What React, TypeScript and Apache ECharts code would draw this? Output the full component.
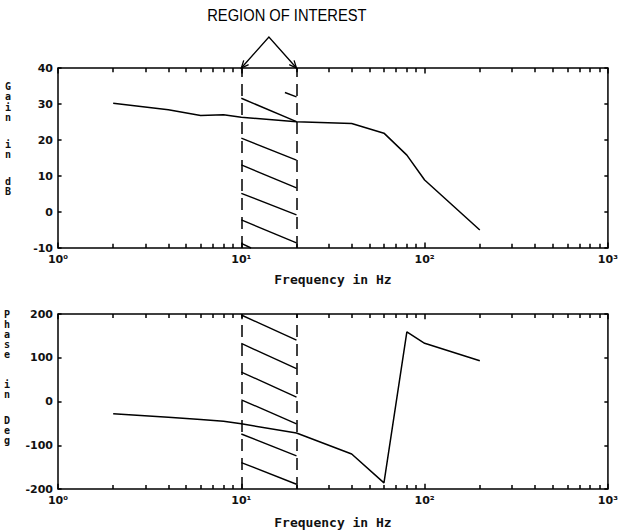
import React, { useEffect, useRef } from "react";
import * as echarts from "echarts";

// ---- data ----
const freqHz = [2, 4, 6, 8, 10, 20, 40, 60, 80, 100, 200];
const gainDb = [30.2, 28.4, 26.8, 27.0, 26.3, 25.1, 24.6, 21.9, 15.8, 8.9, -5.0];
const phaseDeg = [-28, -36, -41, -45, -51, -72, -120, -186, 159, 133, 93];

const regionBounds = [10, 20];
const regionTitle = "REGION OF INTEREST";

const decadeLabels = ["10⁰", "10¹", "10²", "10³"];
const majorFreqTicks = [1, 10, 100, 1000];
const minorFreqTicks = [
  2, 3, 4, 5, 6, 7, 8, 9,
  20, 30, 40, 50, 60, 70, 80, 90,
  200, 300, 400, 500, 600, 700, 800, 900,
];

const gainRange = [-10, 40];
const gainTickValues = [-10, 0, 10, 20, 30, 40];
const phaseRange = [-200, 200];
const phaseTickValues = [-200, -100, 0, 100, 200];

// hatch segments in the region of interest: start (freq, value) -> end (freq, value)
const gainHatchF1 = [17.3, 10, 10, 10, 10, 10, 10];
const gainHatchV1 = [33.2, 31.6, 20.5, 13.1, 5.2, -2.2, -8.7];
const gainHatchF2 = [20, 20, 20, 20, 20, 20, 11.3];
const gainHatchV2 = [32.0, 25.1, 14.4, 6.7, -0.8, -8.6, -10];

const phaseHatchV1 = [197.7, 132.6, 67.4, 3.9, -74.3, -139.5];
const phaseHatchV2 = [140.2, 75.2, 9.9, -51.3, -124.1, -189.2];

const gainTitle = [["G", "a", "i", "n"], ["i", "n"], ["d", "B"]];
const phaseTitle = [["P", "h", "a", "s", "e"], ["i", "n"], ["D", "e", "g"]];

const INK = "#111";
const MONO = "'DejaVu Sans Mono', monospace";
const SANS = "'DejaVu Sans', sans-serif";

export default function App() {
  const ref = useRef<HTMLDivElement | null>(null);

  useEffect(() => {
    if (!ref.current) return;
    const chart = echarts.init(ref.current, undefined, { renderer: "svg" });

    const xAxisBase = (gridIndex: number, nameGap: number) => ({
      type: "log" as const,
      logBase: 10,
      gridIndex,
      min: 1,
      max: 1000,
      axisLine: { show: false },
      axisTick: { show: false },
      splitLine: { show: false },
      axisLabel: {
        margin: 6,
        color: INK,
        fontFamily: SANS,
        fontWeight: "bold" as const,
        fontSize: 11,
        formatter: (v: number) => decadeLabels[Math.round(Math.log10(v))] ?? "",
      },
      name: "Frequency in Hz",
      nameLocation: "middle" as const,
      nameGap,
      nameTextStyle: { color: INK, fontFamily: MONO, fontWeight: "bold" as const, fontSize: 13 },
    });

    const yAxisBase = (gridIndex: number, range: number[], interval: number) => ({
      type: "value" as const,
      gridIndex,
      min: range[0],
      max: range[1],
      interval,
      axisLine: { show: false },
      axisTick: { show: false },
      splitLine: { show: false },
      axisLabel: {
        margin: 5,
        color: INK,
        fontFamily: SANS,
        fontWeight: "bold" as const,
        fontSize: 11,
      },
    });

    const segmentSeries = (xi: number, yi: number, items: number[][], width: number) => ({
      type: "custom" as const,
      xAxisIndex: xi,
      yAxisIndex: yi,
      silent: true,
      data: items,
      renderItem: (_p: any, api: any) => {
        const a = api.coord([api.value(0), api.value(1)]);
        const b = api.coord([api.value(2), api.value(3)]);
        return {
          type: "line",
          shape: { x1: a[0], y1: a[1], x2: b[0], y2: b[1] },
          style: { stroke: "#000", lineWidth: width },
        };
      },
    });

    const dashedBounds = {
      silent: true,
      symbol: ["none", "none"],
      label: { show: false },
      lineStyle: { color: "#000", width: 1.5, type: [12, 7] as any },
      data: regionBounds.map((f) => ({ xAxis: f })),
    };

    const gainHatch = gainHatchF1.map((f, i) => [f, gainHatchV1[i], gainHatchF2[i], gainHatchV2[i]]);
    const phaseHatch = phaseHatchV1.map((v, i) => [regionBounds[0], v, regionBounds[1], phaseHatchV2[i]]);

    // frame ticks as markLine segments in data units (length as a share of the axis span)
    const tickMarkData = (range: number[], values: number[]) => {
      const span = range[1] - range[0];
      const out: any[] = [];
      [...majorFreqTicks, ...minorFreqTicks].forEach((f) => {
        const l = (majorFreqTicks.includes(f) ? 0.03 : 0.023) * span;
        out.push([{ coord: [f, range[0]] }, { coord: [f, range[0] + l] }]);
        out.push([{ coord: [f, range[1]] }, { coord: [f, range[1] - l] }]);
      });
      const k = Math.pow(10, 3 * 0.0065);
      values.forEach((v) => {
        out.push([{ coord: [1, v] }, { coord: [k, v] }]);
        out.push([{ coord: [1000, v] }, { coord: [1000 / k, v] }]);
      });
      return out;
    };
    const tickSeries = (xi: number, yi: number, range: number[], values: number[]) => ({
      type: "line" as const,
      xAxisIndex: xi,
      yAxisIndex: yi,
      data: [[1, range[0]]],
      showSymbol: false,
      symbol: "none",
      lineStyle: { width: 0 },
      silent: true,
      markLine: {
        silent: true,
        symbol: ["none", "none"],
        label: { show: false },
        lineStyle: { color: "#000", width: 1.5, type: "solid" as const },
        data: tickMarkData(range, values),
      },
      z: 5,
    });

    chart.setOption({
      animation: false,
      backgroundColor: "#fff",
      grid: [
        { left: 58, top: 68, width: 557, height: 180, show: true, borderColor: "#000", borderWidth: 1.5 },
        { left: 58, top: 314, width: 557, height: 175, show: true, borderColor: "#000", borderWidth: 1.5 },
      ],
      xAxis: [xAxisBase(0, 25), xAxisBase(1, 27)],
      yAxis: [yAxisBase(0, gainRange, 10), yAxisBase(1, phaseRange, 100)],
      series: [
        {
          type: "line",
          xAxisIndex: 0,
          yAxisIndex: 0,
          data: freqHz.map((f, i) => [f, gainDb[i]]),
          symbol: "none",
          lineStyle: { color: "#000", width: 1.5 },
          markLine: dashedBounds,
          z: 3,
        },
        {
          type: "line",
          xAxisIndex: 1,
          yAxisIndex: 1,
          data: freqHz.map((f, i) => [f, phaseDeg[i]]),
          symbol: "none",
          lineStyle: { color: "#000", width: 1.5 },
          markLine: dashedBounds,
          z: 3,
        },
        segmentSeries(0, 0, gainHatch, 1.4),
        segmentSeries(1, 1, phaseHatch, 1.4),
        tickSeries(0, 0, gainRange, gainTickValues),
        tickSeries(1, 1, phaseRange, phaseTickValues),
      ],
    });

    const toPx = (gi: number, v: number[]) =>
      chart.convertToPixel({ xAxisIndex: gi, yAxisIndex: gi }, v) as number[];

    // annotation arrows positioned from the axes' own scale
    const pL = toPx(0, [regionBounds[0], gainRange[1]]);
    const pR = toPx(0, [regionBounds[1], gainRange[1]]);
    const apex = [(pL[0] + pR[0]) / 2, pL[1] - 31];
    const head = (end: number[]) => {
      const dx = end[0] - apex[0];
      const dy = end[1] - apex[1];
      const len = Math.hypot(dx, dy);
      const ux = dx / len;
      const uy = dy / len;
      const hl = 8;
      const ang = 0.42;
      const rot = (a: number) => [
        end[0] - hl * (ux * Math.cos(a) - uy * Math.sin(a)),
        end[1] - hl * (ux * Math.sin(a) + uy * Math.cos(a)),
      ];
      return { type: "polyline", shape: { points: [rot(ang), end, rot(-ang)] }, style: { stroke: "#000", lineWidth: 1.3, fill: "none" } };
    };

    const stack = (words: string[][], x: number, tops: number[], lh: number) =>
      words.map((w, i) => ({
        type: "text",
        x,
        y: tops[i],
        style: {
          text: w.join("\n"),
          fill: INK,
          font: `bold 10px ${MONO}`,
          lineHeight: lh,
          align: "center",
          verticalAlign: "top",
        },
      }));

    chart.setOption({
      graphic: [
        {
          type: "text",
          x: apex[0] + 18,
          y: 15,
          scaleX: 0.92,
          style: {
            text: regionTitle,
            fill: "#000",
            font: `16px 'Liberation Sans', Arial, sans-serif`,
            align: "center",
            verticalAlign: "middle",
          },
        },
        { type: "polyline", shape: { points: [pL, apex, pR] }, style: { stroke: "#000", lineWidth: 1.3, fill: "none" } },
        head(pL),
        head(pR),
        ...stack(gainTitle, 8, [81, 139, 176], 10.5),
        ...stack(phaseTitle, 7, [309, 379.5, 415], 10),
      ],
    });

    return () => chart.dispose();
  }, []);

  return <div ref={ref} style={{ position: "absolute", left: 0, top: 0, width: 621, height: 531 }} />;
}
